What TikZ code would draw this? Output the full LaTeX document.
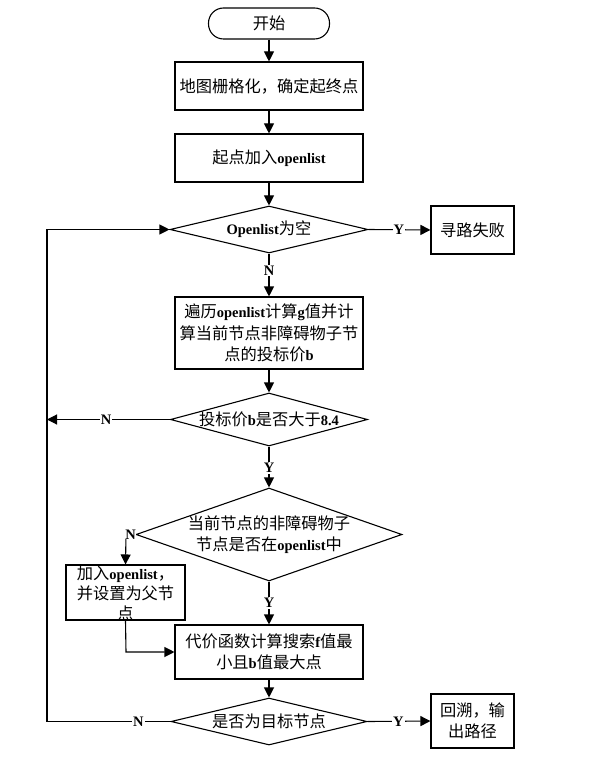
\documentclass[tikz,border=0pt]{standalone}
\usepackage{fontspec}
\setmainfont{Liberation Serif}
\newfontfamily\cjk[Scale=1.12]{Noto Sans CJK SC}
\usetikzlibrary{arrows.meta,shapes.geometric}
\newcommand\zh[1]{{\cjk\mdseries #1}}
\begin{document}
\begin{tikzpicture}[x=1pt,y=-1pt,
  every node/.style={font=\fontsize{14.5}{21.5}\selectfont\bfseries},
  box/.style={draw,line width=1.1pt,rectangle,inner sep=0pt,align=center},
  dia/.style={draw,line width=1.1pt,diamond,inner sep=0pt,aspect=2},
  txt/.style={inner sep=0pt,align=center},
  lab/.style={fill=white,inner sep=1pt},
  conn/.style={line width=1.1pt,-{Triangle[length=10pt,width=10pt]}},
  line/.style={line width=1.1pt}]
\useasboundingbox (0,0) rectangle (593,759);
\node[box,rounded corners=15pt,minimum width=121pt,minimum height=31pt] (start) at (269,23.5) {\zh{开始}};
\node[box,minimum width=188pt,minimum height=48pt] (b1) at (269,86) {\zh{地图栅格化，确定起终点}};
\node[box,minimum width=188pt,minimum height=48pt] (b2) at (269,158) {\zh{起点加入}openlist};
\node[dia,minimum width=198pt,minimum height=47pt] (d1) at (269,229.5) {};
\node[txt] (d1t) at (269,229.5) {Openlist\zh{为空}};
\node[box,minimum width=83pt,minimum height=48pt] (fail) at (472.5,230) {\zh{寻路失败}};
\node[box,minimum width=188pt,minimum height=72pt] (b3) at (269,333) {\zh{遍历}openlist\zh{计算}g\zh{值并计}\\\zh{算当前节点非障碍物子节}\\\zh{点的投标价}b};
\node[dia,minimum width=197pt,minimum height=53pt] (d2) at (269,419.5) {};
\node[txt] (d2t) at (269,419.5) {\zh{投标价}b\zh{是否大于}8.4};
\node[dia,minimum width=266pt,minimum height=93pt] (d3) at (269,534.5) {};
\node[txt] (d3t) at (269,534.5) {\zh{当前节点的非障碍物子}\\\zh{节点是否在}openlist\zh{中}};
\node[box,minimum width=119pt,minimum height=55pt] (b4) at (125.5,592.5) {};
\node[txt,font=\fontsize{14.5}{20}\selectfont\bfseries] (b4t) at (125.5,593) {\zh{加入}openlist\zh{，}\\\zh{并设置为父节}\\\zh{点}};
\node[box,minimum width=188pt,minimum height=54pt] (b5) at (269,652) {\zh{代价函数计算搜索}f\zh{值最}\\\zh{小且}b\zh{值最大点}};
\node[dia,minimum width=196pt,minimum height=47pt] (d4) at (269,721.5) {};
\node[txt] (d4t) at (269,721.5) {\zh{是否为目标节点}};
\node[box,minimum width=83pt,minimum height=54pt] (res) at (472.5,721) {\zh{回溯，输}\\\zh{出路径}};
\coordinate (lx) at (47,0);
\coordinate (bx) at (126,0);
% main column
\draw[conn] (start) -- (b1);
\draw[conn] (b1) -- (b2);
\draw[conn] (b2) -- (d1);
\draw[conn] (d1.south) -- node[lab,pos=0.39]{N} (b3.north);
\draw[conn] (b3) -- (d2.north);
\draw[conn] (d2.south) -- node[lab,pos=0.52]{Y} (d3.north);
\draw[conn] (d3.south) -- node[lab,pos=0.5]{Y} (b5.north);
\draw[conn] (b5) -- (d4.north);
% right
\draw[conn] (d1.east) -- node[lab,pos=0.49]{Y} (fail.west);
\draw[conn] (d4.east) -- node[lab,pos=0.49]{Y} (res.west);
% left
\draw[conn] (d2.west) -- node[lab,pos=0.52]{N} (lx |- d2.west);
\draw[conn] (d4.west) -- node[lab,pos=0.26]{N} (lx |- d4.west) -- (lx |- d1.west) -- (d1.west);
\draw[conn] (d3.west) -- node[lab,inner sep=0pt,pos=0.5]{N} (bx |- d3.west) -- (b4.north);
\draw[conn] (b4.south) -- (bx |- b5.west) -- (b5.west);
\end{tikzpicture}
\end{document}
